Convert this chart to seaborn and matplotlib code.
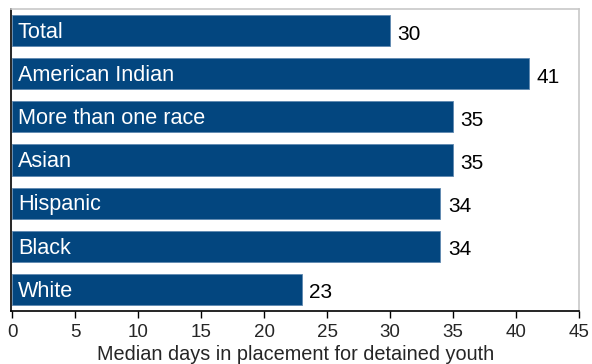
import matplotlib
matplotlib.use("Agg")
import matplotlib.pyplot as plt
import seaborn as sns
import pandas as pd

groups = ["Total", "American Indian", "More than one race", "Asian", "Hispanic", "Black", "White"]
median_days = [30, 41, 35, 35, 34, 34, 23]
x_ticks = [0, 5, 10, 15, 20, 25, 30, 35, 40, 45]

df = pd.DataFrame({"group": groups, "days": median_days})

sns.set_style("white")
plt.rcParams["font.family"] = ["Liberation Sans", "DejaVu Sans"]

W, H = 592, 364
fig = plt.figure(figsize=(W / 100, H / 100), dpi=100)
ax = fig.add_axes([11 / W, 1 - 311 / H, 568 / W, 302 / H])

bar_color = "#03467f"
sns.barplot(data=df, x="days", y="group", orient="h", color=bar_color,
            saturation=1, width=0.72, edgecolor="#5f88b0", linewidth=0.6, ax=ax)

for i, (g, v) in enumerate(zip(groups, median_days)):
    ax.text(0.45, i + 0.04, g, color="white", fontsize=15.6, va="center", ha="left")
    ax.text(v + 0.6, i + 0.08, str(v), color="black", fontsize=15, va="center", ha="left")

ax.set_xlim(-0.1, 45)
ax.set_ylim(6.5, -0.5)
ax.set_xticks(x_ticks)
ax.set_xticklabels([str(t) for t in x_ticks], fontsize=13.5)
ax.set_yticks([])
ax.set_ylabel("")
ax.set_xlabel("")
fig.text(296 / W, 1 - 359.8 / H, "Median days in placement for detained youth",
         fontsize=14.3, ha="center", va="baseline")

ax.tick_params(axis="x", direction="out", length=5, width=1, color="black", pad=4.5, bottom=True)
for side in ("left", "bottom"):
    ax.spines[side].set_color("black")
    ax.spines[side].set_linewidth(1.2)
for side in ("top", "right"):
    ax.spines[side].set_color("#c8c8c8")
    ax.spines[side].set_linewidth(1.2)

fig.savefig("out.png", dpi=100)
